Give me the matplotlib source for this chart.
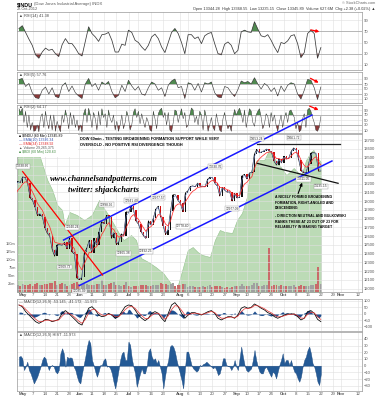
import numpy as np
import pandas as pd
import matplotlib
matplotlib.use('Agg')
import matplotlib.pyplot as plt
from matplotlib.patches import Rectangle

plt.rcParams['font.family'] = ['Liberation Sans', 'DejaVu Sans']

# trading days, NYSE holidays removed; chart starts at Apr 27 and runs empty to mid Nov
days = pd.bdate_range('2012-04-23', '2012-11-16')
days = days.drop(pd.to_datetime(['2012-05-28', '2012-07-04', '2012-09-03']))
xs = np.arange(len(days)) - days.get_loc(pd.Timestamp('2012-04-27'))

# $INDU closes Apr 23 .. Oct 22 (first four only warm up the EMAs)
closes = [12927.17, 13001.56, 13090.72, 13204.62, 13228.31, 13213.63,
          13279.32, 13268.57, 13206.59, 13038.27, 13008.53, 12932.09, 12835.06, 12855.04, 12820.60,
          12695.35, 12632.00, 12598.55, 12442.49, 12369.38, 12504.48, 12502.81, 12496.15, 12529.75,
          12454.83, 12580.69, 12419.86, 12393.45,
          12118.57, 12101.46, 12127.95, 12414.79, 12460.96, 12554.20, 12411.23, 12573.80, 12496.38,
          12651.91, 12767.17, 12741.82, 12837.33, 12824.39, 12573.57, 12640.78, 12502.66, 12534.67,
          12627.01, 12602.26, 12880.09,
          12871.39, 12943.36, 12896.67, 12772.47, 12736.29, 12653.12, 12604.53, 12573.27, 12777.09,
          12727.21, 12805.54, 12908.70, 12943.82, 12822.57, 12721.46, 12617.32, 12676.05, 12887.93,
          13075.66, 13073.01, 13008.68,
          12976.13, 12878.88, 13096.17, 13117.51, 13168.60, 13175.64, 13165.19, 13207.95, 13169.43,
          13172.14, 13164.78, 13250.11, 13275.20, 13271.64, 13203.58, 13172.76, 13057.46, 13157.97,
          13124.67, 13102.99, 13107.48, 13000.71, 13090.84,
          13035.94, 13047.48, 13292.00, 13306.64, 13254.29, 13323.36, 13333.35, 13539.86, 13593.37,
          13553.10, 13564.64, 13577.96, 13596.93, 13579.47, 13558.92, 13457.55, 13413.51, 13485.97,
          13437.13,
          13515.11, 13482.36, 13494.61, 13575.36, 13610.15, 13583.65, 13473.53, 13344.97, 13326.39,
          13328.85, 13424.23, 13551.78, 13557.00, 13548.94, 13343.51, 13345.89]

# volume in millions, Apr 27 .. Oct 22
volume = [22, 20, 24, 21, 23, 26, 20, 25, 27, 23, 22, 24, 25, 27, 28, 34, 22, 25, 27, 24,
          19, 23, 25, 29, 30, 26, 23, 24, 25, 21, 23, 22, 24, 25, 38, 22, 23, 25, 28, 30,
          22, 21, 20, 23, 31, 20, 14, 18, 19, 18, 21, 22, 23, 20, 18, 22, 21, 23, 27, 24,
          25, 22, 26, 28, 19, 22, 23, 25, 24, 16, 19, 17, 16, 15, 15, 17, 14, 17, 22, 15,
          18, 19, 18, 16, 13, 15, 12, 15, 20, 19, 18, 24, 20, 19, 18, 21, 27, 29, 20, 19,
          21, 22, 136, 18, 22, 21, 19, 23, 20, 19, 18, 19, 22, 15, 20, 21, 20, 19, 20, 21,
          22, 25, 77, 24]

# green comparison area (percent of panel height), read at these trading days
green_day = [0, 5, 9, 12, 14, 16, 18, 19, 21, 24, 27, 30, 33, 34, 36, 38, 41, 43, 46, 48,
             50, 53, 56, 59, 62, 64, 65, 67, 69, 71, 73, 75, 78, 80, 82, 84, 87, 89, 91, 93,
             94, 97, 100, 102, 104, 107, 109, 112, 115, 117, 119, 120, 121, 123]
green_val = [92, 90, 84.4, 70, 63.75, 54.4, 51.25, 41.9, 50, 48.1, 45, 48.1, 57.5, 54.4, 50, 45,
             36.9, 32.5, 35.6, 32.5, 21.25, 18.75, 15.6, 11.9, 5.6, 1.25, 4.4, 15, 26.25, 28.1,
             25, 23.1, 21.9, 32.5, 38.75, 37.5, 36.9, 45, 49.4, 59.4, 73.1, 82.5, 82.5, 88.75,
             83.75, 77.5, 73.1, 77.5, 72.5, 82.5, 87.5, 88.75, 85, 81.25]

rsi14 = [75, 80, 68, 56, 45, 28, 22, 33, 40, 36, 38, 30, 25, 46, 57, 48, 48, 40, 30, 26,
         52, 78, 66, 60, 52, 64, 65, 68, 54, 33, 33, 47, 45, 72, 68, 54, 50, 42, 36, 45,
         60, 65, 57, 42, 32, 50, 68, 75, 66, 50, 30, 64, 64, 57, 60, 48, 62, 66, 68, 48,
         30, 28, 47, 51, 45, 30, 36, 69, 72, 69, 68, 87, 74, 62, 60, 64, 54, 42, 32, 50,
         48, 53, 62, 64, 48, 23, 32, 66, 72, 66, 22, 41]
rsi5 = [88, 92, 60, 72, 35, 15, 12, 45, 58, 30, 55, 20, 15, 62, 75, 40, 62, 35, 22, 12,
        70, 92, 60, 72, 45, 78, 68, 80, 40, 15, 25, 65, 40, 85, 62, 45, 60, 30, 25, 55,
        78, 70, 45, 55, 20, 65, 82, 90, 55, 60, 12, 75, 70, 45, 72, 38, 75, 70, 78, 35,
        18, 15, 60, 55, 35, 20, 48, 82, 75, 80, 70, 95, 70, 50, 72, 62, 40, 55, 22, 62,
        40, 65, 75, 70, 30, 10, 45, 88, 85, 55, 8, 58]
rsi2 = [95, 80, 97, 40, 85, 20, 70, 10, 40, 5, 8, 30, 3, 60, 75, 20, 85, 40, 15, 70,
        10, 70, 5, 45, 20, 3, 70, 40, 90, 60, 15, 80, 30, 70, 20, 50, 8, 30, 2, 75,
        95, 40, 97, 70, 20, 80, 55, 10, 85, 30, 95, 60, 75, 20, 90, 55, 40, 70, 10, 45,
        5, 30, 70, 15, 40, 85, 60, 10, 30, 80, 95, 60, 85, 35, 75, 45, 20, 60, 40, 10,
        5, 85, 55, 15, 75, 90, 97, 60, 80, 30, 80, 10, 3, 40, 90, 85, 40, 70, 95, 55,
        80, 20, 30, 70, 98, 90, 40, 65, 30, 85, 70, 10, 90, 60, 5, 30, 60, 20, 8, 75,
        40, 10, 3, 55, 80, 40, 15, 30, 5, 60, 92, 70, 85, 97, 75, 40, 90, 20, 60, 95,
        85, 40, 25, 70, 85, 95, 60, 15, 35, 75, 65, 20, 80, 45, 70, 30, 5, 40, 70, 20,
        60, 80, 40, 85, 90, 75, 60, 15, 40, 3, 10, 55, 75, 20, 90, 97, 85, 60, 40, 10,
        5, 20, 64]
macd = [69, 56, 18, -8, -33, -59, -72, -59, -41, -46, -59, -51, -41, 5, 26, 5, -21, -46, -72, -85,
        -21, 44, 56, 31, -8, -21, -15, 5, -8, -33, -21, 18, 56, 69, 64, 31, -8, -33, -51, -33,
        5, 18, 5, -33, -59, 5, 69, 87, 56, 5, -33, -8, 10, 10, 0, -8, 5, 18, 26, 5,
        -33, -46, -33, -21, -21, -33, -8, 44, 56, 44, 51, 77, 62, 44, 31, 10, 0, -21, -33, -21,
        -8, 0, 0, 0, -21, -46, -33, 18, 26, 5, -41, -59]
hist = [13.5, 14.5, 11, -6.5, -1.5, 6, -6.5, -11.5, -19, -26.5,
        -21.5, -16.5, -9, -1.5, 8.5, 13.5, 11, 1, -6.5, -0.5,
        1, -1.5, -9, -11.5, -6.5, 18.5, 26, 18.5, -1.5, 13.5,
        11, 12.5, 11, -1.5, -6.5, -16.5, -24, -26.5, -11.5, 1,
        13.5, 28.5, 38.5, 33.5, 8.5, 1, -9, -16.5, -9, 1,
        1, 8.5, 11, -1.5, -0.5, -4, -11.5, -24, -34, -21.5,
        -6.5, 8.5, 18.5, 21, 8.5, 8.5, 36, 31, 11, -1.5,
        -11.5, -31.5, -21.5, -11.5, -4, -11.5, -11.5, -1.5, 21, 26,
        13.5, 8.5, 11, 3.5, 8.5, -1.5, -11.5, -34, -16.5, -1.5,
        8.5, 28.5, 31, 28.5, 21, 8.5, -1.5, -11.5, -21.5, -34,
        -6.5, 21, 21, 11, 1, -4, -6.5, -9, -6.5, 1,
        -0.5, 2.5, 3.5, 6, 3.5, 1, -1.5, -4, -1.5, -6.5,
        -14, -11.5, -1.5, 11, 11, 1, -0.5, -1.5, -6.5, -1.5,
        8.5, -1.5, -6.5, 11, 28.5, 13.5, 1, -6.5, -9, -6.5,
        -4, 8.5, 23.5, 8.5, -1.5, -9, -11.5, -11.5, -4, -1.5,
        -6.5, -11.5, -16.5, -9, -11.5, -19, -9, 1, 8.5, 18.5,
        3.5, 8.5, 8.5, 1, 8.5, -1.5, -9, -11.5, -19, -24,
        -16.5, -1.5, 8.5, 13.5, 23.5, 28.5, 18.5, 3.5, -1.5, -11.5,
        -24, -29, -12]

# swing labels: (trading day, price, text, above?)
swings = [(2, 13338.66, '13338.66', True), (19, 12309.73, '12309.73', False),
          (22, 12640.24, '12640.24', True), (25, 12035.09, '12035.09', False),
          (36, 12898.96, '12898.96', True), (43, 12465.38, '12465.38', False),
          (46, 12941.40, '12941.40', True), (52, 12492.25, '12492.25', False),
          (57, 12977.57, '12977.57', True), (67, 12778.40, '12778.40', False),
          (80, 13330.76, '13330.76', True), (87, 12977.09, '12977.09', False),
          (97, 13653.24, '13653.24', True), (112, 13661.72, '13661.72', True),
          (116, 13311.05, '13311.05', False), (123, 13235.15, '13235.15', False)]

tick_dates = ['2012-05-01', '2012-05-07', '2012-05-14', '2012-05-21', '2012-05-29', '2012-06-04',
              '2012-06-11', '2012-06-18', '2012-06-25', '2012-07-02', '2012-07-09', '2012-07-16',
              '2012-07-23', '2012-08-01', '2012-08-06', '2012-08-13', '2012-08-20', '2012-08-27',
              '2012-09-04', '2012-09-10', '2012-09-17', '2012-09-24', '2012-10-01', '2012-10-08',
              '2012-10-15', '2012-10-22', '2012-10-29', '2012-11-01', '2012-11-12']
tick_lab = ['May', '7', '14', '21', '28', 'Jun', '11', '18', '25', 'Jul', '9', '16', '23', 'Aug',
            '6', '13', '20', '27', 'Sep', '10', '17', '24', 'Oct', '8', '15', '22', '29', 'Nov', '12']
tick_x = [xs[days.get_loc(pd.Timestamp(d))] for d in tick_dates]

W, H = 377.0, 400.0
fig = plt.figure(figsize=(3.77, 4.0), dpi=100)
fig.patch.set_facecolor('white')


def rect(top, bot):
    return [17 / W, 1 - bot / H, 345 / W, (bot - top) / H]


def ftxt(x, y, s, **kw):
    kw.setdefault('va', 'center')
    fig.text(x / W, 1 - y / H, s, **kw)


def style(ax, ylo, yhi, yt, labels=True):
    ax.set_xlim(-0.3, 139.7)
    ax.set_ylim(ylo, yhi)
    ax.set_xticks(tick_x)
    ax.set_xticklabels(tick_lab if labels else [])
    ax.set_yticks(yt)
    ax.yaxis.tick_right()
    ax.tick_params(length=0, labelsize=3, labelcolor='#555', pad=1.2)
    ax.grid(True, color='#e0e0e0', lw=0.4)
    ax.set_axisbelow(True)
    for s in ax.spines.values():
        s.set_color('#999')
        s.set_linewidth(0.5)
    if labels:
        for t in ax.get_xticklabels():
            t.set_fontsize(3.2)
            if t.get_text().isalpha():
                t.set_fontweight('bold')


GREEN_F = '#4f8a4f'
RED_F = '#8b3a3a'


def rsi_panel(top, bot, ylo, yhi, vals, name, lw):
    ax = fig.add_axes(rect(top, bot))
    style(ax, ylo, yhi, [10, 30, 50, 70, 90], labels=False)
    rx = np.linspace(0.5, 123, len(vals))
    v = np.array(vals, dtype=float)
    ax.axhline(70, color='#999', lw=0.45)
    ax.axhline(30, color='#999', lw=0.45)
    ax.fill_between(rx, v, 70, where=v > 70, interpolate=True, color=GREEN_F, lw=0)
    ax.fill_between(rx, v, 30, where=v < 30, interpolate=True, color=RED_F, lw=0)
    ax.plot(rx, v, color='#3a3a3a', lw=lw)
    ax.text(0.006, 0.97, '\u25b2 ' + name, transform=ax.transAxes, fontsize=2.8,
            color='#444', va='top', ha='left')
    return ax


ax1 = rsi_panel(12, 70, 0.9, 104.5, rsi14, 'RSI(14) 41.38', 0.55)
ax2 = rsi_panel(72, 103, -6, 118, rsi5, 'RSI(5) 57.76', 0.45)
ax3 = rsi_panel(104.5, 133, -2, 112, rsi2, 'RSI(2) 64.17', 0.35)

arrow = dict(arrowstyle='-|>', color='red', lw=0.9, mutation_scale=4)
ax1.annotate('', xy=(123.5, 68.2), xytext=(117.8, 73.6), arrowprops=arrow, annotation_clip=False)
ax2.annotate('', xy=(123.1, 70), xytext=(117.8, 98), arrowprops=arrow, annotation_clip=False)
ax3.annotate('', xy=(123.1, 86), xytext=(117.4, 110), arrowprops=arrow, annotation_clip=False)

# main panel: green area underneath, then volume, then price on top
main_rect = rect(134, 292)
axg = fig.add_axes(main_rect)
axg.set_xlim(-0.3, 139.7)
axg.set_ylim(0, 98.75)
axg.fill_between(green_day, green_val, 0, color='#bcdbb6', lw=0.4, edgecolor='#93c18c')
axg.set_xticks([])
axg.set_yticks([])
for s in axg.spines.values():
    s.set_visible(False)

axv = fig.add_axes(main_rect, facecolor='none')
axv.set_xlim(-0.3, 139.7)
axv.set_ylim(0, 488)
cl = np.array(closes)
cx = xs[:len(cl)]
up = np.diff(cl)[3:] >= 0
vcol = np.where(up, '#a0a0a0', '#c96a6a')
axv.bar(cx[4:], volume, width=0.8, color=vcol, lw=0)
axv.set_xticks([])
axv.set_yticks([25, 50, 75, 100, 125, 150])
axv.set_yticklabels(['25m', '50m', '75m', '100m', '125m', '150m'])
axv.tick_params(length=0, labelsize=2.8, labelcolor='#555', pad=1)
for s in axv.spines.values():
    s.set_visible(False)

axm = fig.add_axes(main_rect, facecolor='none')
style(axm, 11961, 13769, np.arange(12000, 13701, 100))
axm.tick_params(axis='x', pad=1)

# EMAs of the 60-min bars, 7 bars per session
s = pd.Series(cl)
ema10 = s.ewm(span=10 / 7, adjust=False).mean()
ema34 = s.ewm(span=34 / 7, adjust=False).mean()
prev = cl[:-1]
chg = cl[1:] - prev
ccol = np.where(chg >= 0, '#111111', '#d01010')
axm.bar(cx[1:], chg, bottom=prev, width=0.55, color=ccol, lw=0, zorder=3)
axm.plot(cx, cl, color='black', lw=0.4, zorder=3)
axm.plot(cx, ema10, color='#7890d0', lw=0.4, zorder=4)
axm.plot(cx, ema34, color='#ff3030', lw=0.55, zorder=4)

for d, p, t, above in swings:
    axm.annotate(t, (d, p), xytext=(0, 2.5 if above else -2.5), textcoords='offset points',
                 ha='center', va='bottom' if above else 'top', fontsize=2.3, color='#333', zorder=6,
                 bbox=dict(boxstyle='square,pad=0.15', fc='white', ec='#999', lw=0.3))

# trendlines
axm.plot([25, 127.5], [12035, 13460], color='#1818ff', lw=1.1, zorder=5)
axm.plot([18.6, 119.4], [12556, 13986], color='#1818ff', lw=1.1, zorder=5, clip_on=False)
axm.plot([2, 34.4], [13339, 12155], color='#ff0000', lw=0.9, zorder=5)
axm.plot([97.2, 130.8], [13650, 13650], color='#222', lw=0.9, zorder=5)
axm.plot([97.2, 130.0], [13433, 13205], color='#111', lw=0.9, zorder=5)
axm.annotate('', xy=(115.8, 13242), xytext=(113.4, 13059),
             arrowprops=dict(arrowstyle='-|>', color='black', lw=0.8, mutation_scale=4), zorder=6)

# legend block
axm.add_patch(Rectangle((0, 1 - 23 / 158), 61 / 345, 23 / 158, transform=axm.transAxes,
                        fc='white', ec='none', zorder=7))
leg = [('\u25a0 $INDU (60 Min) 13345.89', 'black'),
       ('\u2014 EMA(10) 13346.34', '#3050b0'),
       ('\u2014 EMA(34) 13348.92', '#e02020'),
       ('\u25b2 Volume 29,265,375', '#555'),
       ('\u25a0 $BDI (60 Min) 120.63', '#3f8a3f')]
for k, (t, c) in enumerate(leg):
    ftxt(19, 136 + 3.9 * k, t, fontsize=2.5, color=c, zorder=8)

ftxt(80, 139, 'DOW 60min - TESTING BROADENING FORMATION SUPPORT WHILE VERY',
     fontsize=2.8, fontweight='bold', color='black')
ftxt(80, 145, 'OVERSOLD - NO POSITIVE RSI DIVERGENCE THOUGH',
     fontsize=2.8, fontweight='bold', color='black')

wm = dict(family=['Liberation Serif', 'DejaVu Serif'], style='italic', fontweight='bold',
          fontsize=6, color='black', ha='center')
ftxt(104, 179, 'www.channelsandpatterns.com', **wm)
ftxt(103, 190, 'twitter: shjackcharts', **wm)

note = ['A NICELY FORMED BROADENING', 'FORMATION, RIGHT-ANGLED AND', 'DESCENDING',
        '- DIRECTION NEUTRAL AND BULKOWSKI', 'RANKS THESE AT 23 OUT OF 23 FOR',
        'RELIABILITY IN MAKING TARGET']
for t, yy in zip(note, [197, 202.7, 208.2, 216, 221.7, 227.2]):
    ftxt(275, yy, t, fontsize=2.5, fontweight='bold', color='black')

# MACD
axd = fig.add_axes(rect(299, 330.5))
style(axd, -127, 115, [-100, -50, 0, 50, 100], labels=False)
hx = np.linspace(0.5, 123, len(hist))
mx = np.linspace(0.5, 123, len(macd))
signal = pd.Series(macd).ewm(span=2.5, adjust=False).mean()
axd.fill_between(hx, hist, 0, color='#1f4f8f', lw=0)
axd.plot(mx, macd, color='black', lw=0.55)
axd.plot(mx, signal, color='#e03030', lw=0.5)
axd.text(0.006, 0.97, '\u2014 MACD(12,26,9) -53.145, -41.172, -11.973', transform=axd.transAxes,
         fontsize=2.8, color='#444', va='top')

axh = fig.add_axes(rect(332, 391))
style(axh, -37.8, 50.3, [-30, -20, -10, 0, 10, 20, 30, 40])
axh.fill_between(hx, hist, 0, color='#245a96', lw=0.3, edgecolor='#1d4a80')
axh.tick_params(axis='x', pad=1)
axh.text(0.006, 0.985, '\u25b2 MACD(12,26,9) HIST -11.973', transform=axh.transAxes,
         fontsize=2.8, color='#444', va='top')

# header
ftxt(17, 4.5, '$INDU', fontsize=3.8, fontweight='bold', color='black')
ftxt(34, 4.5, '(Dow Jones Industrial Average) INDX', fontsize=3, color='#555')
ftxt(17, 9.5, '22-Oct-2012', fontsize=2.8, color='#555')
ftxt(375, 3.5, '\u00a9 StockCharts.com', fontsize=2.8, color='#666', ha='right')
ftxt(375, 9.3, 'Open 13344.28  High 13368.55  Low 13235.15  Close 13345.89  '
     'Volume 627.6M  Chg +2.38 (+0.02%) \u25b2', fontsize=2.8, color='#333', ha='right')

fig.savefig('out.png', dpi=100)
